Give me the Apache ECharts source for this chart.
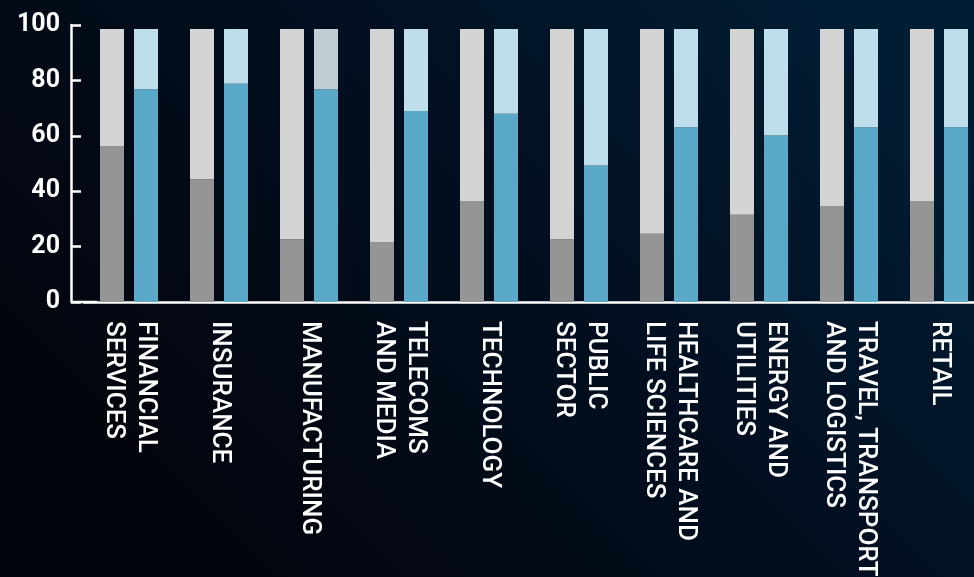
<!DOCTYPE html>
<html>
<head>
<meta charset="utf-8">
<script src="https://cdn.jsdelivr.net/npm/echarts@6/dist/echarts.min.js"></script>
<style>
html,body{margin:0;padding:0;background:#03060f;overflow:hidden;width:974px;height:577px;}
#chart{width:974px;height:577px;overflow:hidden;position:relative;}
</style>
</head>
<body>
<div id="chart"></div>
<script>
var categories = ['FINANCIAL\nSERVICES', 'INSURANCE', 'MANUFACTURING', 'TELECOMS\nAND MEDIA', 'TECHNOLOGY', 'PUBLIC\nSECTOR', 'HEALTHCARE AND\nLIFE SCIENCES', 'ENERGY AND\nUTILITIES', 'TRAVEL, TRANSPORT\nAND LOGISTICS', 'RETAIL'];
var greyBase = [57, 45, 23, 22, 37, 23, 25, 32, 35, 37];
var greyRest = [43, 55, 77, 78, 63, 77, 75, 68, 65, 63];
var blueBase = [78, 80, 78, 70, 69, 50, 64, 61, 64, 64];
var blueRest = [22, 20, 22, 30, 31, 50, 36, 39, 36, 36];
var yTicks = [0, 20, 40, 60, 80, 100];

var chart = echarts.init(document.getElementById('chart'), null, {renderer: 'canvas'});
var blueRestData = blueRest.map(function (v, i) {
  return categories[i] === 'MANUFACTURING' ? {value: v, itemStyle: {color: '#c0cfd4'}} : v;
});
var option = {
  backgroundColor: {
    type: 'linear', x: 0.85, y: 0, x2: 0.25, y2: 1,
    colorStops: [
      {offset: 0, color: '#011d34'},
      {offset: 0.45, color: '#020f20'},
      {offset: 1, color: '#03050d'}
    ]
  },
  animation: false,
  grid: {left: 84, width: 900, top: 25, bottom: 275, containLabel: false, outerBoundsMode: 'none'},
  xAxis: {
    type: 'category',
    data: categories,
    axisLine: {
      show: true,
      symbol: ['rect', 'none'],
      symbolSize: [2.5, 26],
      lineStyle: {color: '#ffffff', width: 2.5}
    },
    axisTick: {show: false},
    axisLabel: {
      interval: 0,
      rotate: -90,
      margin: 19,
      padding: [8, 0, 0, 0],
      color: '#ffffff',
      fontFamily: 'Roboto',
      fontWeight: 500,
      fontSize: 26,
      lineHeight: 32
    }
  },
  yAxis: [{
    type: 'value',
    min: yTicks[0],
    max: yTicks[yTicks.length - 1],
    interval: yTicks[1] - yTicks[0],
    offset: 13,
    splitLine: {show: false},
    axisLine: {show: true, lineStyle: {color: '#ffffff', width: 2.5}},
    axisTick: {show: true, inside: true, length: 10, lineStyle: {color: '#ffffff', width: 2.5}},
    axisLabel: {
      margin: 11,
      color: '#ffffff',
      fontFamily: 'Roboto',
      fontWeight: 'bold',
      fontSize: 25
    }
  }, {
    type: 'value',
    min: 0,
    max: 101.5,
    show: false,
    splitLine: {show: false}
  }],
  series: [
    {name: 'greyBase', type: 'bar', stack: 'grey', yAxisIndex: 1, data: greyBase,
     barWidth: 24, barGap: '41.67%', itemStyle: {color: '#959595'}},
    {name: 'greyRest', type: 'bar', stack: 'grey', yAxisIndex: 1, data: greyRest,
     barWidth: 24, barGap: '41.67%', itemStyle: {color: '#d4d4d4'}},
    {name: 'blueBase', type: 'bar', stack: 'blue', yAxisIndex: 1, data: blueBase,
     barWidth: 24, barGap: '41.67%', itemStyle: {color: '#5ba9c8'}},
    {name: 'blueRest', type: 'bar', stack: 'blue', yAxisIndex: 1, data: blueRestData,
     barWidth: 24, barGap: '41.67%', itemStyle: {color: '#bddeea'}}
  ]
};
chart.setOption(option);
</script>
</body>
</html>
